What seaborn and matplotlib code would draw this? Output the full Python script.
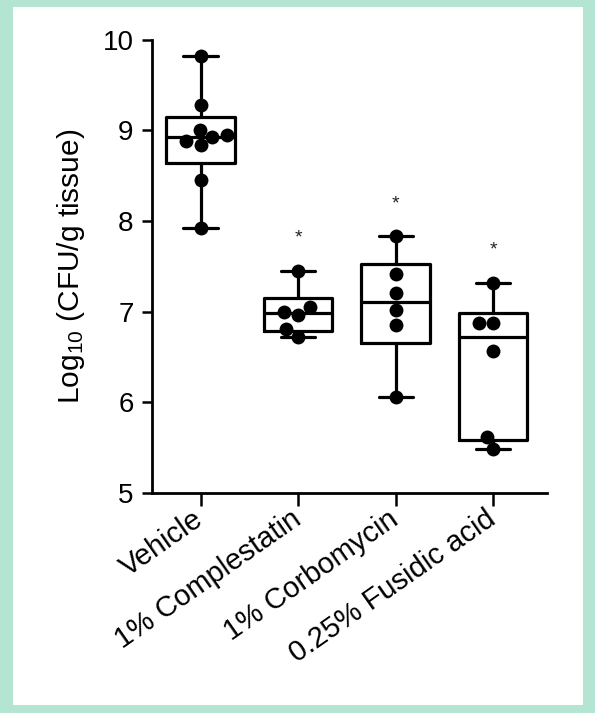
import numpy as np
import pandas as pd
import matplotlib.pyplot as plt
import seaborn as sns
from matplotlib.patches import Rectangle

# data (log10 CFU/g tissue)
groups = ['Vehicle', '1% Complestatin', '1% Corbomycin', '0.25% Fusidic acid']
vehicle = [9.82, 9.28, 9.01, 8.95, 8.93, 8.88, 8.84, 8.45, 7.92]
complestatin = [7.45, 7.05, 7.00, 6.96, 6.81, 6.72]
corbomycin = [7.83, 7.42, 7.20, 7.02, 6.85, 6.06]
fusidic = [7.32, 6.87, 6.87, 6.56, 5.62, 5.48]
signif = ['', '*', '*', '*']

values = [vehicle, complestatin, corbomycin, fusidic]
df = pd.DataFrame({
    'Group': np.repeat(groups, [len(v) for v in values]),
    'Value': np.concatenate(values),
})

sns.set_style('ticks')
plt.rcParams['font.family'] = ['Liberation Sans', 'DejaVu Sans']
plt.rcParams['mathtext.default'] = 'regular'
plt.rcParams.update({'text.color': 'black', 'axes.labelcolor': 'black',
                     'xtick.color': 'black', 'ytick.color': 'black',
                     'axes.edgecolor': 'black'})

fig = plt.figure(figsize=(5.95, 7.13), dpi=100)
fig.patch.set_facecolor('#b4e5d3')
# white panel inside the teal frame
fig.patches.append(Rectangle((13 / 595, 8 / 713), 570 / 595, 698 / 713,
                             transform=fig.transFigure, facecolor='white',
                             edgecolor='none', zorder=-10))
ax = fig.add_axes([0.255, 0.309, 0.919 - 0.255, 0.944 - 0.309])
ax.set_facecolor('none')

# box (quartiles as in Prism -> weibull), whiskers min-max
stats = []
for v in values:
    q1, med, q3 = np.percentile(v, [25, 50, 75], method='weibull')
    stats.append(dict(med=med, q1=q1, q3=q3, whislo=min(v), whishi=max(v), fliers=[]))
lw = 2.3
ax.bxp(stats, positions=range(len(groups)), widths=0.7, showfliers=False,
       boxprops=dict(color='black', linewidth=lw),
       whiskerprops=dict(color='black', linewidth=lw),
       capprops=dict(color='black', linewidth=lw),
       medianprops=dict(color='black', linewidth=lw),
       manage_ticks=False, zorder=2)

sns.swarmplot(data=df, x='Group', y='Value', order=groups, color='black',
              size=10, linewidth=0, ax=ax, zorder=3, clip_on=False)

for i, s in enumerate(signif):
    if s:
        ax.text(i, max(values[i]) + 0.36, s, ha='center', va='center',
                fontsize=14, color='#222222')

ax.set_ylim(5, 10)
ax.set_xlim(-0.5, 3.55)
ax.set_yticks([5, 6, 7, 8, 9, 10])
ax.set_xticks(range(len(groups)))
ax.set_xticklabels(groups, rotation=35, ha='right', va='center',
                   rotation_mode='anchor', fontsize=21)
ax.tick_params(axis='y', labelsize=20, length=7, width=1.8, pad=6)
ax.tick_params(axis='x', length=9, width=1.8, pad=8)
ax.set_xlabel('')
ax.set_ylabel('Log$_{10}$ (CFU/g tissue)', fontsize=21.5, labelpad=11)
sns.despine(ax=ax)
for sp in ['left', 'bottom']:
    ax.spines[sp].set_linewidth(2)

fig.savefig('out.png', dpi=100, facecolor=fig.get_facecolor())
